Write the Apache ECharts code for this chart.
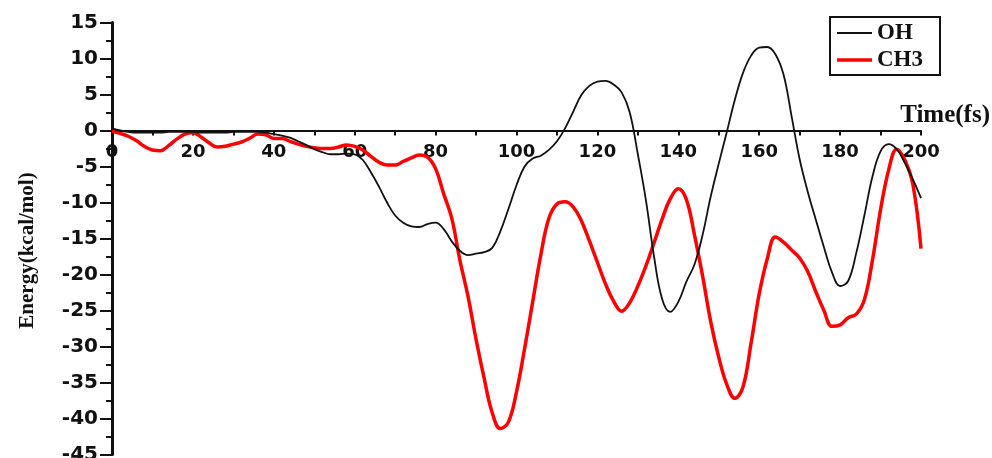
<!DOCTYPE html>
<html>
<head>
<meta charset="utf-8">
<title>Energy vs Time</title>
<script src="https://cdn.jsdelivr.net/npm/echarts@6/dist/echarts.min.js"></script>
<style>
  html, body { margin: 0; padding: 0; background: #fff; }
  #chart { width: 992px; height: 458px; }
</style>
</head>
<body>
<div id="chart"></div>
<script>
// Sampling times (fs)
const timeFs = [
  0, 2, 4, 6, 8, 10, 12, 14, 16, 18, 20, 22, 24, 26, 28, 30, 32, 34, 36, 38,
  40, 42, 44, 46, 48, 50, 52, 54, 56, 58, 60, 62, 64, 66, 68, 70, 72, 74, 76, 78,
  80, 82, 84, 86, 88, 90, 92, 94, 96, 98, 100, 102, 104, 106, 108, 110, 112, 114, 116, 118,
  120, 122, 124, 126, 128, 130, 132, 134, 136, 138, 140, 142, 144, 146, 148, 150, 152, 154, 156, 158,
  160, 162, 164, 166, 168, 170, 172, 174, 176, 178, 180, 182, 184, 186, 188, 190, 192, 194, 196, 198, 200
];

// Energy of the OH fragment (kcal/mol)
const energyOH = [
  0.3, 0.0, -0.2, -0.3, -0.3, -0.3, -0.3, -0.2, -0.2, -0.2, -0.2, -0.3, -0.3, -0.3, -0.3, -0.2, -0.2, -0.2, -0.2, -0.3,
  -0.5, -0.7, -1.0, -1.5, -2.0, -2.6, -3.0, -3.3, -3.3, -3.2, -3.3, -4.1, -5.8, -7.8, -10.0, -11.8, -12.8, -13.3, -13.4, -13.0,
  -12.8, -13.7, -15.4, -16.7, -17.3, -17.1, -16.9, -16.3, -14.0, -10.9, -7.6, -5.0, -3.9, -3.5, -2.7, -1.5, 0.3, 2.6, 4.9, 6.2,
  6.8, 6.9, 6.4, 5.3, 2.5, -3.3, -9.7, -17.5, -23.4, -25.2, -23.8, -21.0, -18.6, -14.5, -9.2, -4.6, -0.2, 4.3, 8.0, 10.4,
  11.5, 11.6, 10.6, 7.8, 2.0, -4.0, -8.5, -12.4, -16.2, -19.7, -21.6, -20.9, -17.0, -11.8, -6.4, -2.9, -1.9, -2.6, -4.5, -6.8, -9.4
];

// Energy of the CH3 fragment (kcal/mol)
const energyCH3 = [
  -0.1, -0.4, -0.8, -1.4, -2.2, -2.7, -2.8, -2.1, -1.2, -0.5, -0.3, -0.9, -1.7, -2.3, -2.2, -1.9, -1.6, -1.1, -0.5, -0.6,
  -1.1, -1.1, -1.5, -1.9, -2.2, -2.4, -2.5, -2.5, -2.3, -2.0, -2.2, -2.7, -3.6, -4.4, -4.8, -4.8, -4.3, -3.8, -3.4, -3.7,
  -5.3, -8.8, -12.2, -18.0, -23.0, -29.0, -34.4, -39.2, -41.4, -40.5, -36.3, -30.3, -23.8, -17.3, -12.2, -10.2, -9.9, -10.6, -12.5, -15.3,
  -18.3, -21.3, -23.7, -25.1, -23.9, -21.6, -18.8, -15.6, -12.3, -9.5, -8.1, -9.6, -14.5, -20.2, -26.5, -31.5, -35.3, -37.2, -35.6, -29.5,
  -22.7, -17.8, -14.8, -15.5, -16.6, -17.7, -19.6, -22.4, -25.0, -27.2, -27.0, -26.0, -25.5, -23.5, -18.0, -11.0, -5.5, -2.6, -4.1, -7.5, -16.4
];

const seriesNames = ['OH', 'CH3'];
const pairs = (ys) => timeFs.map((t, i) => [t, ys[i]]);

// Plot area geometry: y spans -45..15, so the zero line sits 15/60 of the way down
const GRID_TOP = 22.5;
const GRID_BOTTOM = 3.5;
const PLOT_H = 458 - GRID_TOP - GRID_BOTTOM;
const Y_MIN = -45, Y_MAX = 15;
const zeroOffset = -PLOT_H * (0 - Y_MIN) / (Y_MAX - Y_MIN);

const serif = 'Liberation Serif';

const chart = echarts.init(document.getElementById('chart'), null, { renderer: 'canvas' });

chart.setOption({
  animation: false,
  backgroundColor: '#ffffff',
  grid: {
    left: 112, right: 71, top: GRID_TOP, bottom: GRID_BOTTOM,
    containLabel: false,
    outerBoundsMode: 'none'
  },
  legend: {
    orient: 'vertical',
    left: 830,
    top: 17,
    padding: [4, 17, 3, 7],
    itemWidth: 35,
    itemHeight: 14,
    itemGap: 3,
    symbolKeepAspect: true,
    borderColor: '#111',
    borderWidth: 2,
    borderRadius: 0,
    textStyle: {
      fontFamily: serif,
      fontWeight: 'bold',
      fontSize: 23,
      lineHeight: 24,
      color: '#111'
    },
    data: [
      { name: seriesNames[0], icon: 'path://M0,0H35V1.8H0Z' },
      { name: seriesNames[1], icon: 'path://M0,0H35V3.5H0Z' }
    ]
  },
  xAxis: {
    type: 'value',
    min: 0,
    max: 200,
    interval: 20,
    offset: zeroOffset,
    name: 'Time(fs)',
    nameLocation: 'end',
    nameGap: 69,
    nameTextStyle: {
      fontFamily: serif,
      fontWeight: 'bold',
      fontSize: 25,
      lineHeight: 30,
      color: '#111',
      align: 'right',
      verticalAlign: 'bottom'
    },
    axisLine: { onZero: false, lineStyle: { color: '#111', width: 2 } },
    axisTick: { show: true, inside: false, length: 5, lineStyle: { color: '#111', width: 2 } },
    minorTick: { show: true, splitNumber: 2, length: 5, lineStyle: { color: '#111', width: 2 } },
    axisLabel: {
      margin: 13,
      showMinLabel: true,
      fontFamily: 'DejaVu Sans',
      fontWeight: 'bold',
      fontSize: 18,
      color: '#111'
    },
    splitLine: { show: false }
  },
  yAxis: {
    type: 'value',
    min: Y_MIN,
    max: Y_MAX,
    interval: 5,
    name: '{t|Energy(kcal/mol)}{s| }',
    nameLocation: 'middle',
    nameGap: 74,
    nameTextStyle: {
      rich: {
        t: { fontFamily: serif, fontWeight: 'bold', fontSize: 21, color: '#111' },
        s: { width: 24, fontSize: 21 }
      }
    },
    axisLine: { show: true, onZero: false, lineStyle: { color: '#111', width: 3 } },
    axisTick: { show: true, inside: false, length: 12, lineStyle: { color: '#111', width: 2 } },
    minorTick: { show: true, splitNumber: 2, length: 6, lineStyle: { color: '#111', width: 2 } },
    axisLabel: {
      margin: 14,
      fontFamily: 'DejaVu Sans',
      fontWeight: 'bold',
      fontSize: 20,
      color: '#111'
    },
    splitLine: { show: false }
  },
  series: [
    {
      name: seriesNames[1],
      type: 'line',
      data: pairs(energyCH3),
      smooth: 0.4,
      symbol: 'none',
      lineStyle: { color: '#ff0000', width: 3.5 },
      itemStyle: { color: '#ff0000' },
      z: 2
    },
    {
      name: seriesNames[0],
      type: 'line',
      data: pairs(energyOH),
      smooth: 0.4,
      symbol: 'none',
      lineStyle: { color: '#111111', width: 1.8 },
      itemStyle: { color: '#111111' },
      z: 3
    }
  ]
});
</script>
</body>
</html>
